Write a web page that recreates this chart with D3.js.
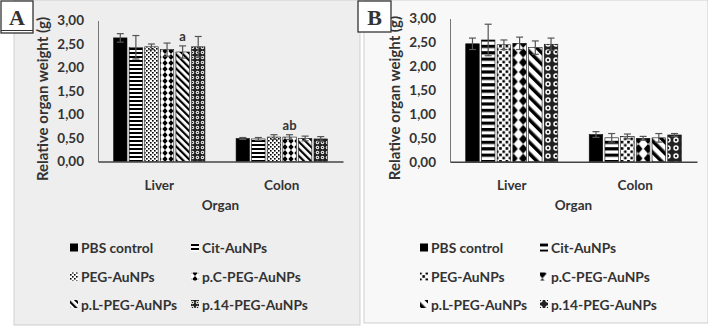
<!DOCTYPE html>
<html>
<head>
<meta charset="utf-8">
<script src="https://cdn.jsdelivr.net/npm/d3@7"></script>
<style>
  body { margin: 0; background: #fff; }
  svg text { font-family: Lato, "Open Sans", sans-serif; font-weight: 700; fill: #333; }
</style>
</head>
<body>
<svg id="chart" width="708" height="326"></svg>
<script>
const organs = ["Liver", "Colon"];
const series = ["PBS control", "Cit-AuNPs", "PEG-AuNPs", "p.C-PEG-AuNPs", "p.L-PEG-AuNPs", "p.14-PEG-AuNPs"];
const yTicks = [0, 0.5, 1, 1.5, 2, 2.5, 3];

// panel A values (Liver, Colon) per series
const meanA = [[2.63, 0.49], [2.43, 0.48], [2.44, 0.52], [2.38, 0.52], [2.33, 0.49], [2.44, 0.48]];
const errA = [[0.09, 0.02], [0.25, 0.03], [0.06, 0.05], [0.14, 0.05], [0.13, 0.05], [0.22, 0.05]];
const marksA = [["", ""], ["", ""], ["", ""], ["", "ab"], ["a", ""], ["", ""]];

// panel B values
const meanB = [[2.47, 0.57], [2.55, 0.50], [2.45, 0.53], [2.48, 0.49], [2.39, 0.50], [2.46, 0.56]];
const errB = [[0.12, 0.06], [0.33, 0.09], [0.10, 0.05], [0.13, 0.04], [0.14, 0.09], [0.13, 0.03]];
const marksB = [["", ""], ["", ""], ["", ""], ["", ""], ["", ""], ["", ""]];

const svg = d3.select("#chart");
const defs = svg.append("defs");
const commaFmt = (v) => d3.format(".2f")(v).replace(".", ",");

// fill patterns, one set per panel (panel B uses coarser ones)
function makePatterns(prefix, big) {
  const s = big ? 1.6 : 1;
  const pat = (id, w, h) =>
    defs.append("pattern").attr("id", prefix + id)
      .attr("patternUnits", "userSpaceOnUse").attr("width", w).attr("height", h);

  let p = pat("h", 4 * s, 4 * s);
  p.append("rect").attr("width", 4 * s).attr("height", 4 * s).attr("fill", "#fff");
  p.append("rect").attr("width", 4 * s).attr("height", 2 * s).attr("fill", "#000");

  p = pat("d", 4 * s, 4 * s);
  p.append("rect").attr("width", 4 * s).attr("height", 4 * s).attr("fill", "#fff");
  p.append("rect").attr("width", 1.6 * s).attr("height", 1.6 * s).attr("fill", "#000");
  p.append("rect").attr("x", 2 * s).attr("y", 2 * s).attr("width", 1.6 * s).attr("height", 1.6 * s).attr("fill", "#000");

  p = pat("m", 6 * s, 6 * s);
  p.append("rect").attr("width", 6 * s).attr("height", 6 * s).attr("fill", "#fff");
  p.append("path").attr("d", `M${3 * s},0 L${5.6 * s},${3 * s} L${3 * s},${6 * s} L${0.4 * s},${3 * s}Z`).attr("fill", "#000");

  p = pat("s", 5 * s, 5 * s).attr("patternTransform", "rotate(-45)");
  p.append("rect").attr("width", 5 * s).attr("height", 5 * s).attr("fill", "#fff");
  p.append("rect").attr("width", 2.2 * s).attr("height", 5 * s).attr("fill", "#000");

  p = pat("c", 5 * s, 5 * s);
  p.append("rect").attr("width", 5 * s).attr("height", 5 * s).attr("fill", "#222");
  p.append("circle").attr("cx", 2.5 * s).attr("cy", 2.5 * s).attr("r", 1.7 * s).attr("fill", "#fff");
  p.append("circle").attr("cx", 2.5 * s).attr("cy", 2.5 * s).attr("r", 0.8 * s).attr("fill", "#222");
}
makePatterns("pa-", false);
makePatterns("pb-", true);
const fillFor = (prefix) => ["#000", `url(#${prefix}h)`, `url(#${prefix}d)`, `url(#${prefix}m)`, `url(#${prefix}s)`, `url(#${prefix}c)`];

function drawPanel(cfg) {
  const g = svg.append("g");

  g.append("rect")
    .attr("x", cfg.bg[0]).attr("y", cfg.bg[1]).attr("width", cfg.bg[2]).attr("height", cfg.bg[3])
    .attr("fill", cfg.bgFill).attr("stroke", "#cfcfcf");

  const x0 = d3.scaleBand().domain(organs).range([cfg.left, cfg.right]);
  const x1 = d3.scaleBand().domain(series).range([0, x0.bandwidth()]).paddingInner(0.14).paddingOuter(1.0);
  const y = d3.scaleLinear().domain([0, 3]).range([cfg.bottom, cfg.top]);
  const fills = fillFor(cfg.prefix);

  const yAxis = g.append("g")
    .attr("transform", `translate(${cfg.left},0)`)
    .call(d3.axisLeft(y).tickValues(yTicks).tickFormat(commaFmt).tickSize(0).tickPadding(14));
  yAxis.select(".domain").attr("stroke", "#777");
  yAxis.selectAll("text").attr("font-size", 13.5).attr("font-family", null).attr("fill", "#333");

  const bars = [];
  series.forEach((s, si) => {
    organs.forEach((o, oi) => {
      bars.push({ s, si, o, v: cfg.mean[si][oi], e: cfg.err[si][oi], m: cfg.marks[si][oi] });
    });
  });

  g.selectAll("rect.bar").data(bars).enter().append("rect")
    .attr("class", "bar")
    .attr("x", (d) => x0(d.o) + x1(d.s))
    .attr("y", (d) => y(d.v))
    .attr("width", x1.bandwidth())
    .attr("height", (d) => y(0) - y(d.v))
    .attr("fill", (d) => fills[d.si])
    .attr("stroke", "#111").attr("stroke-width", 0.6);

  const cx = (d) => x0(d.o) + x1(d.s) + x1.bandwidth() / 2;
  const eb = g.selectAll("g.err").data(bars).enter().append("g").attr("class", "err")
    .attr("stroke", "#555").attr("stroke-width", 1.2);
  eb.append("line").attr("x1", cx).attr("x2", cx).attr("y1", (d) => y(d.v + d.e)).attr("y2", (d) => y(d.v - d.e));
  eb.append("line").attr("x1", (d) => cx(d) - 3.5).attr("x2", (d) => cx(d) + 3.5)
    .attr("y1", (d) => y(d.v + d.e)).attr("y2", (d) => y(d.v + d.e));
  eb.append("line").attr("x1", (d) => cx(d) - 3.5).attr("x2", (d) => cx(d) + 3.5)
    .attr("y1", (d) => y(d.v - d.e)).attr("y2", (d) => y(d.v - d.e));

  g.selectAll("text.mark").data(bars.filter((d) => d.m)).enter().append("text")
    .attr("class", "mark")
    .attr("x", cx).attr("y", (d) => y(d.v + d.e) - 5)
    .attr("text-anchor", "middle").attr("font-size", 13)
    .text((d) => d.m);

  // x axis line
  const xAxis = g.append("g")
    .attr("transform", `translate(0,${cfg.bottom})`)
    .call(d3.axisBottom(x0).tickSize(0).tickPadding(19));
  xAxis.select(".domain").attr("stroke", "#444").attr("stroke-width", 1.6);
  xAxis.selectAll("text").attr("font-size", 13.5).attr("font-family", null).attr("fill", "#333");

  g.append("text")
    .attr("x", (cfg.left + cfg.right) / 2).attr("y", cfg.bottom + 48)
    .attr("text-anchor", "middle").attr("font-size", 13.5)
    .text("Organ");

  g.append("text")
    .attr("transform", `translate(${cfg.left - 50},${(cfg.top + cfg.bottom) / 2 + 8}) rotate(-90)`)
    .attr("text-anchor", "middle").attr("font-size", 15)
    .text("Relative organ weight (g)");

  // legend
  const lg = g.append("g");
  series.forEach((s, i) => {
    const col = i % 2, row = Math.floor(i / 2);
    const lx = cfg.legendX[col], ly = cfg.legendY[row];
    lg.append("rect").attr("x", lx).attr("y", ly - 4.5).attr("width", 8).attr("height", 8)
      .attr("fill", fills[i]);
    lg.append("text").attr("x", lx + cfg.legendGap).attr("y", ly + 5)
      .attr("font-size", 13.8).text(s);
  });

  // panel letter box
  const b = cfg.box;
  g.append("rect").attr("x", b[0]).attr("y", b[1]).attr("width", b[2]).attr("height", b[3])
    .attr("fill", "#fff").attr("stroke", "#333").attr("stroke-width", 1.3);
  if (cfg.letter === "A") {
    g.append("line").attr("x1", b[0]).attr("x2", b[0] + b[2])
      .attr("y1", b[1] + b[3] - 2.5).attr("y2", b[1] + b[3] - 2.5)
      .attr("stroke", "#333").attr("stroke-width", 1);
  }
  g.append("text").attr("x", b[0] + b[2] / 2).attr("y", b[1] + b[3] / 2 + 8)
    .attr("text-anchor", "middle").attr("font-size", 22)
    .style("font-family", "'Liberation Serif', 'DejaVu Serif', serif").attr("fill", "#000")
    .text(cfg.letter);
}

drawPanel({
  letter: "A", prefix: "pa-",
  bg: [14, 0, 346, 325], bgFill: "#eeeeee",
  box: [1, 1, 32, 32],
  left: 98, right: 343, top: 20.5, bottom: 161.5,
  mean: meanA, err: errA, marks: marksA,
  legendX: [70, 191], legendY: [248, 277, 304.5], legendGap: 11
});

drawPanel({
  letter: "B", prefix: "pb-",
  bg: [364, 0, 344, 323], bgFill: "#f8f8f8",
  box: [358, 1, 33, 31],
  left: 450, right: 697, top: 18.5, bottom: 161.7,
  mean: meanB, err: errB, marks: marksB,
  legendX: [420, 540], legendY: [248, 277, 304.5], legendGap: 11
});
</script>
</body>
</html>
